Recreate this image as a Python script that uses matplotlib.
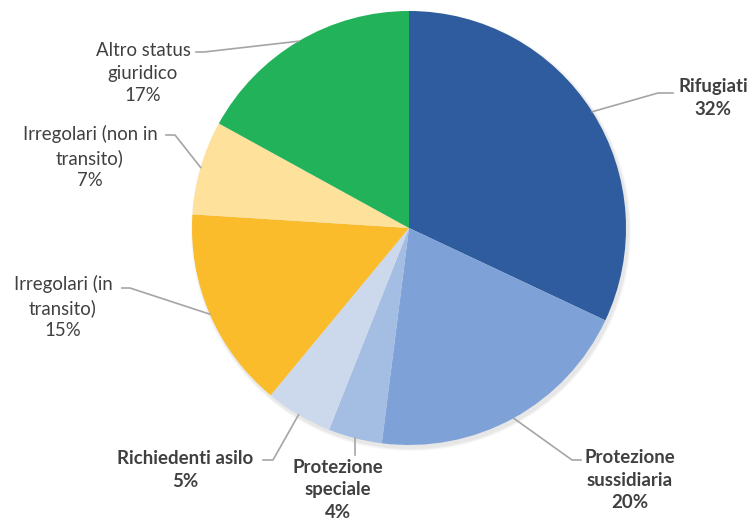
import numpy as np
import matplotlib.pyplot as plt
from matplotlib.patches import Circle

labels = ['Rifugiati', 'Protezione\nsussidiaria', 'Protezione\nspeciale',
          'Richiedenti asilo', 'Irregolari (in\ntransito)',
          'Irregolari (non in\ntransito)', 'Altro status\ngiuridico']
values = [32, 20, 4, 5, 15, 7, 17]
colors = ['#2E5C9E', '#7EA2D8', '#A4BDE3', '#CCD9ED', '#FBBC2B', '#FEE19A', '#22B35A']
bold = [True, True, True, True, False, False, False]

H = 529
def Y(y):
    return H - y

# layout (pixel coords, y measured from top)
cx, cy, r = 409, 228, 217
text_pos = [(713, 98), (630, 480), (338, 490), (185, 470), (63, 307), (90, 157), (143, 73)]
elbows = [[(658, 93), (673, 93)],
          [(572, 460), (581, 460)],
          [None, None],
          [(273, 460), (263, 460)],
          [(130, 288), (122, 288)],
          [(175, 135), (166, 135)],
          [(204, 52), (196, 52)]]

plt.rcParams['font.family'] = ['Lato', 'DejaVu Sans']

fig = plt.figure(figsize=(7.53, 5.29), dpi=100)
ax = fig.add_axes([0, 0, 1, 1])

# soft shadow
for k, a in enumerate([0.05, 0.06, 0.08]):
    ax.add_patch(Circle((cx + 2, Y(cy) - 3), r + 3 - k, color='#808080', alpha=a, lw=0, zorder=0))

wedges, _ = ax.pie(values, colors=colors, startangle=90, counterclock=False,
                   center=(cx, Y(cy)), radius=r, frame=True,
                   wedgeprops=dict(linewidth=0))
ax.set_xlim(0, 753)
ax.set_ylim(0, H)
ax.set_aspect('equal')
ax.axis('off')

for i, w in enumerate(wedges):
    mid = np.deg2rad((w.theta1 + w.theta2) / 2)
    ex, ey = cx + r * np.cos(mid), Y(cy) + r * np.sin(mid)
    el, end = elbows[i]
    if el is None:
        xs, ys = [ex, ex], [ey, Y(455)]
    else:
        xs, ys = [ex, el[0], end[0]], [ey, Y(el[1]), Y(end[1])]
    ax.plot(xs, ys, color='#A5A5A5', lw=1.2, zorder=3)
    tx, ty = text_pos[i]
    ax.text(tx, Y(ty), f'{labels[i]}\n{values[i]}%', ha='center', va='center',
            fontsize=13.4, fontweight='bold' if bold[i] else 'normal',
            color='#404040', linespacing=1.4, zorder=4)

fig.savefig('out.png', dpi=100)
